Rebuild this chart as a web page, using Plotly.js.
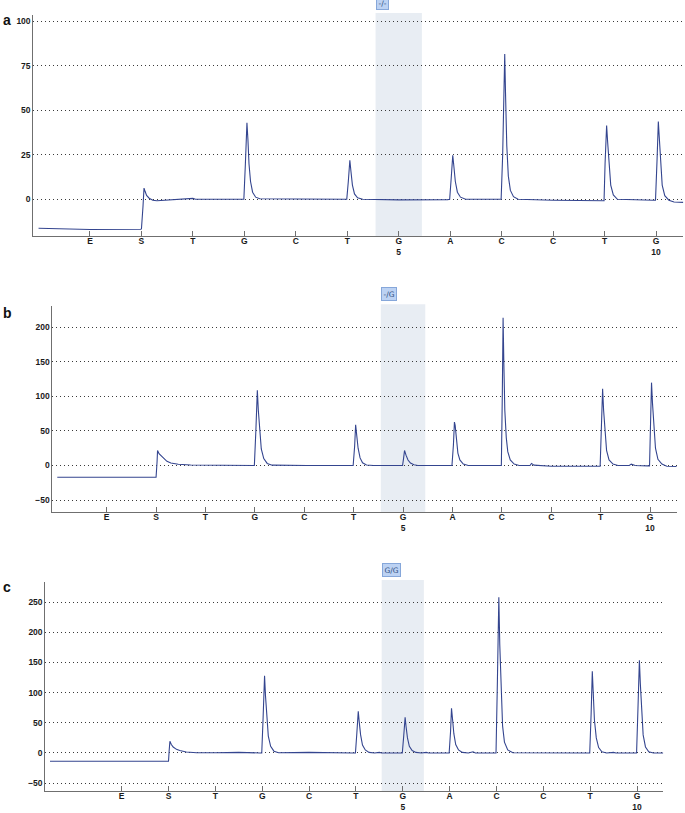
<!DOCTYPE html>
<html>
<head>
<meta charset="utf-8">
<script src="https://cdn.plot.ly/plotly-3.0.1.min.js"></script>
<style>
  html, body { margin: 0; padding: 0; background: #fff; }
  #chart { width: 685px; height: 813px; }
</style>
</head>
<body>
<div id="chart"></div>
<script>
/* Pyrogramas de tres genotipos (-/-, -/G, G/G) en la posición 5 */

// orden de dispensación y número de base bajo la etiqueta
const dispensation = ["E", "S", "T", "G", "C", "T", "G", "A", "C", "C", "T", "G"];
const basePosition = ["", "", "", "", "", "", "5", "", "", "", "", "10"];
const genotypes = ["-/-", "-/G", "G/G"];
const panelLetters = ["a", "b", "c"];
const yTicksA = [0, 25, 50, 75, 100];
const yTicksB = [-50, 0, 50, 100, 150, 200];
const yTicksC = [-50, 0, 50, 100, 150, 200, 250];

const xA = [0.0, 0.5, 1.0, 1.99,
  2.0, 2.03, 2.05, 2.07, 2.1, 2.15, 2.22, 2.3, 2.45, 2.6, 2.95, 3.0, 3.05, 3.9,
  3.99, 4.02, 4.05, 4.07, 4.09, 4.12, 4.16, 4.22, 4.3, 5.0, 5.95,
  5.99, 6.02, 6.05, 6.07, 6.1, 6.14, 6.2, 6.3, 7.0, 7.95,
  7.99, 8.02, 8.05, 8.07, 8.1, 8.14, 8.2, 8.3, 8.95,
  8.99, 9.02, 9.05, 9.06, 9.075, 9.1, 9.13, 9.17, 9.23, 9.32, 10.0, 10.5, 10.95,
  10.99, 11.01, 11.04, 11.06, 11.09, 11.12, 11.17, 11.25, 11.95,
  11.99, 12.02, 12.045, 12.065, 12.09, 12.12, 12.17, 12.25, 12.35, 12.53];
const yA = [-16.2, -16.6, -16.9, -16.8,
  -16.5, -4, 6.3, 4.5, 2.2, 0.6, -0.5, -0.8, -0.6, 0, 0.1, 0.5, 0, 0,
  0, 20, 42.9, 33, 20, 10, 4, 1.2, 0.3, 0.2, 0,
  0, 10, 21.9, 16, 8, 3, 0.8, 0, -0.3, -0.2,
  0, 12, 24.7, 19, 10, 4, 1.2, 0, 0,
  0, 25, 78, 81.5, 60, 30, 13, 5, 1.5, 0, -0.5, -0.8, -0.8,
  -0.8, 20, 41.4, 32, 17, 8, 2.5, 0, -0.5,
  -0.5, 22, 43.6, 34, 18, 8, 2, -0.5, -1.5, -1.7];

// panel b
const xB = [0.0, 1.0, 2.0,
  2.0, 2.02, 2.03, 2.06, 2.1, 2.15, 2.22, 2.3, 2.45, 2.7, 3.0, 3.5, 3.95,
  3.99, 4.02, 4.05, 4.07, 4.1, 4.13, 4.18, 4.25, 4.35, 5.0, 5.05, 5.95,
  5.99, 6.02, 6.04, 6.06, 6.09, 6.13, 6.18, 6.26, 6.4, 6.95,
  6.99, 7.01, 7.03, 7.06, 7.1, 7.15, 7.22, 7.3, 7.95,
  7.99, 8.02, 8.04, 8.055, 8.08, 8.11, 8.15, 8.22, 8.32, 8.95,
  8.99, 9.01, 9.025, 9.04, 9.06, 9.09, 9.12, 9.17, 9.25, 9.35, 9.57, 9.6, 9.65, 10.0, 10.5, 10.95,
  10.99, 11.015, 11.04, 11.06, 11.09, 11.12, 11.17, 11.25, 11.35, 11.58, 11.62, 11.7, 11.95,
  11.99, 12.01, 12.03, 12.05, 12.08, 12.11, 12.16, 12.24, 12.34, 12.54];
const yB = [-17, -17, -17,
  -17, 5, 21.7, 17, 14, 10, 6, 3.5, 1.8, 0.8, 0.8, 0.5, 0,
  0, 50, 109, 80, 45, 24, 10, 3, 0.5, 1, 0, 0,
  0, 28, 59, 45, 25, 11, 4, 0.8, 0, 0,
  0, 10, 21.7, 15, 8, 3.5, 1, 0, 0,
  0, 30, 62.8, 58, 35, 18, 8, 2, 0, 0,
  0, 106, 214, 150, 80, 40, 20, 8, 2, 0, 0, 3, 0.5, -1, -1.5, -1,
  -1, 55, 111, 80, 45, 22, 8, 2, 0, 0, 2, 0, -0.5,
  -0.5, 60, 120, 90, 50, 25, 9, 2, -1, -1.5];

// panel c
const xC = [-0.53, 1.0, 2.0,
  2.0, 2.015, 2.03, 2.06, 2.1, 2.17, 2.24, 2.38, 2.6, 3.0, 3.5, 3.95,
  3.99, 4.02, 4.05, 4.07, 4.1, 4.13, 4.18, 4.25, 4.35, 5.0, 5.95,
  5.99, 6.02, 6.05, 6.07, 6.1, 6.14, 6.2, 6.28, 6.4, 6.5, 6.55, 6.95,
  6.99, 7.02, 7.05, 7.07, 7.1, 7.14, 7.2, 7.28, 7.4, 7.5, 7.55, 7.95,
  7.99, 8.02, 8.04, 8.06, 8.09, 8.13, 8.19, 8.27, 8.4, 8.5, 8.55, 8.95,
  8.99, 9.02, 9.05, 9.07, 9.1, 9.13, 9.17, 9.24, 9.35, 10.0, 10.5, 10.55, 10.95,
  10.99, 11.02, 11.045, 11.065, 11.09, 11.13, 11.18, 11.25, 11.35, 11.5, 11.55, 11.95,
  11.99, 12.02, 12.05, 12.07, 12.1, 12.13, 12.18, 12.25, 12.35, 12.56];
const yC = [-13.8, -13.8, -13.8,
  -13.8, 5, 19.4, 14, 9.8, 6, 4, 1.5, 0.5, 0.5, 1, 0,
  0, 60, 128, 95, 55, 28, 11, 3, 0.5, 1, 0,
  0, 33, 69, 52, 30, 13, 5, 1, 0, 1, 0, 0,
  0, 28, 59, 44, 25, 11, 4, 1, 0, 1, 0, 0,
  0, 36, 74, 58, 32, 14, 5, 1, 0, 2, 0, 0,
  0, 120, 258, 180, 90, 45, 18, 5, 0.5, 0, 0.5, 0, 0,
  0, 65, 135.5, 100, 55, 25, 9, 2, 0, 1, 0, 0,
  0, 75, 153.7, 115, 60, 30, 10, 2, 0, 0];

const tickVals = dispensation.map((_, i) => i + 1);
const tickText = dispensation.map((d, i) => basePosition[i] ? d + "<br>" + basePosition[i] : d);

const LINE = "#34458f";
const AXIS = "#6f6f6f";
const GRID = "#3a3a3a";
const YFONT = { family: "Liberation Sans, Arial, sans-serif", size: 8.5, color: "#1a1a1a", weight: "bold" };
const XFONT = { family: "Liberation Sans, Arial, sans-serif", size: 8.5, color: "#1a1a1a", weight: "bold" };

// geometría de cada panel (fracciones del lienzo 685x813)
const panels = [
  { xs: [xA, yA], dx: [0.0486, 0.9975], dy: [0.7097, 0.9819], xr: [-0.102, 12.53], yr: [-20.6, 103.6], yt: yTicksA, ly: 0.9754, so: -3 },
  { xs: [xB, yB], dx: [0.0764, 0.9879], dy: [0.3702, 0.6236], xr: [-0.10, 12.54], yr: [-67.4, 231], yt: yTicksB, ly: 0.615, so: -3 },
  { xs: [xC, yC], dx: [0.0661, 0.9683], dy: [0.0265, 0.2845], xr: [-0.63, 12.56], yr: [-63.8, 284], yt: yTicksC, ly: 0.2778, so: -4 },
];

const traces = [];
const layout = {
  width: 685, height: 813,
  margin: { l: 0, r: 0, t: 0, b: 0 },
  paper_bgcolor: "#fff", plot_bgcolor: "#fff",
  showlegend: false,
  shapes: [], annotations: [],
};

panels.forEach((p, k) => {
  const sfx = k === 0 ? "" : String(k + 1);
  traces.push({
    x: p.xs[0], y: p.xs[1], type: "scatter", mode: "lines",
    xaxis: "x" + sfx, yaxis: "y" + sfx,
    line: { color: LINE, width: 1.1 }, hoverinfo: "skip",
  });

  layout["xaxis" + sfx] = {
    domain: p.dx, anchor: "y" + sfx, range: p.xr,
    tickmode: "array", tickvals: tickVals, ticktext: tickText,
    ticks: "inside", ticklen: 5, tickcolor: AXIS, tickwidth: 1,
    ticklabelstandoff: p.so,
    showline: true, linecolor: AXIS, linewidth: 1,
    showgrid: false, zeroline: false, tickfont: XFONT, fixedrange: true,
  };
  layout["yaxis" + sfx] = {
    domain: p.dy, anchor: "x" + sfx, range: p.yr,
    tickmode: "array", tickvals: p.yt,
    showgrid: true, gridcolor: GRID, griddash: "1px,3px", gridwidth: 1,
    showline: true, linecolor: AXIS, linewidth: 1,
    zeroline: false, ticks: "", tickfont: YFONT, fixedrange: true,
  };

  // zona resaltada del SNP
  layout.shapes.push({
    type: "rect", layer: "below", xref: "x" + sfx, yref: "y" + sfx + " domain",
    x0: 6.55, x1: 7.45, y0: 0, y1: 1.008,
    fillcolor: "#e8edf3", line: { width: 0 },
  });
  layout.annotations.push({
    xref: "x" + sfx, yref: "y" + sfx + " domain", x: 6.55, y: 1.008,
    xanchor: "left", yanchor: "bottom", yshift: 3, showarrow: false,
    text: genotypes[k],
    font: { family: "DejaVu Sans, sans-serif", size: 7.5, color: "#2b4a7e" },
    bgcolor: "#bcd2f3", bordercolor: "#86a7da", borderwidth: 1, borderpad: 1.5,
  });
  layout.annotations.push({
    xref: "paper", yref: "paper", x: 0.001, y: p.ly, xanchor: "left", yanchor: "middle",
    showarrow: false, text: panelLetters[k],
    font: { family: "Liberation Sans, Arial, sans-serif", size: 14, color: "#111", weight: "bold" },
  });
});

Plotly.newPlot("chart", traces, layout, { displayModeBar: false, staticPlot: true });
</script>
</body>
</html>
